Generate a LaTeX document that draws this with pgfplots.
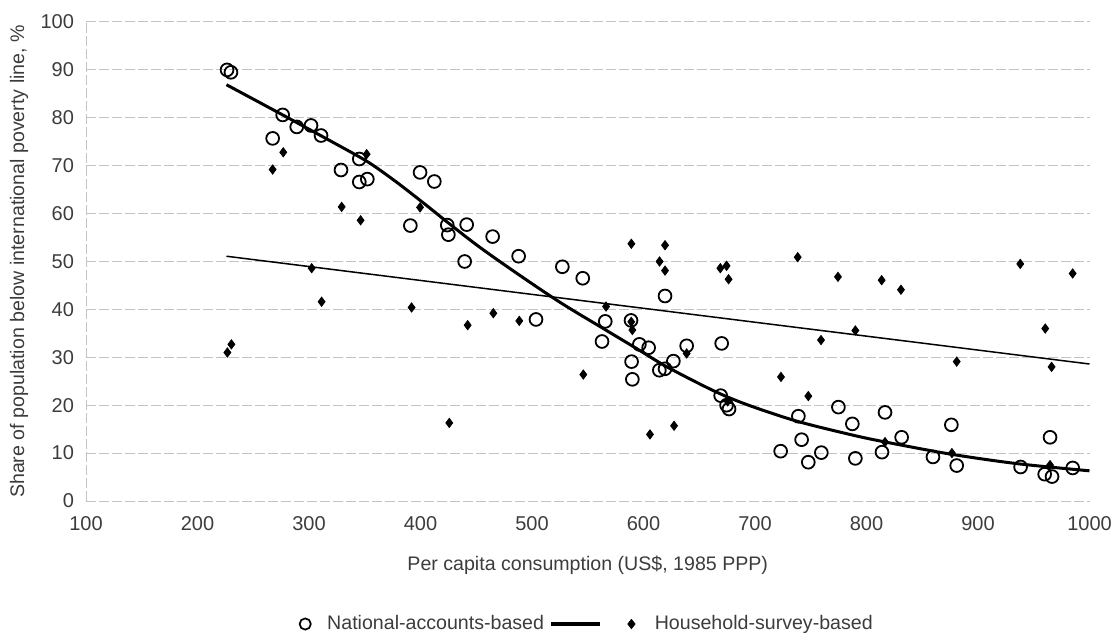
\documentclass[border=0pt]{standalone}
\usepackage{pgfplots}
\pgfplotsset{compat=1.18}
\usepackage{fontspec}
\setmainfont{Liberation Sans}
\definecolor{txt}{RGB}{60,60,60}
\definecolor{grd}{RGB}{195,195,195}
\begin{document}
\begin{tikzpicture}
\useasboundingbox (-43pt,-67.5pt) rectangle (512.5pt,250.5pt);
\begin{axis}[
  at={(0,0)}, anchor=south west,
  scale only axis, width=501.75pt, height=239.5pt,
  xmin=100, xmax=1000, ymin=0, ymax=100,
  xtick={100,200,...,1000}, ytick={0,10,...,100},
  major tick length=0pt,
  axis line style={draw=none},
  ymajorgrids, grid style={grd, dash pattern=on 5pt off 1.5pt, line width=0.5pt},
  /pgf/number format/assume math mode=true,
  /pgf/number format/1000 sep={},
  ticklabel style={font=\fontsize{10}{11}\selectfont, text=txt},
  xticklabel style={yshift=-4pt},
  yticklabel style={xshift=-2.5pt},
  xlabel={Per capita consumption (US\$, 1985 PPP)},
  ylabel={Share of population below international poverty line, \%},
  label style={font=\fontsize{9.8}{11}\selectfont, text=txt},
  xlabel style={at={(axis description cs:0.5,0)}, anchor=center, yshift=-32pt},
  ylabel style={at={(axis description cs:0,0.5)}, anchor=center, yshift=33.5pt},
  legend style={at={(axis description cs:0.5,-0.2568)}, anchor=center, draw=none, fill=none,
    font=\fontsize{9.8}{11}\selectfont, text=txt, legend columns=-1,
    /tikz/every even column/.append style={column sep=0.7pt}},
  legend cell align=left,
  clip=false,
]
\draw[grd, dash pattern=on 5pt off 1.5pt, line width=0.5pt] (axis cs:100,0) -- (axis cs:100,100);
% National-accounts-based points
\addplot[only marks, mark=o, mark size=3.2pt, mark options={line width=0.9pt, black},
  legend image code/.code={\path[draw=none,fill=none] (-3pt,0) -- (9pt,0); \draw[black, line width=0.85pt, fill=none] (0,0) circle (2.8pt);}] coordinates {
(226.5,90.0) (230,89.5) (267.4,75.7) (276.4,80.6) (289,78.1) (301.8,78.4) (310.8,76.3)
(328.7,69.1) (345.1,71.4) (345.1,66.6) (352.3,67.2) (399.6,68.6) (412.4,66.7) (390.9,57.5)
(424,57.6) (425,55.6) (441.4,57.7) (439.6,50.0) (464.7,55.2) (488,51.1) (527.2,48.9)
(545.5,46.5) (619.3,42.8) (503.6,37.9) (565.7,37.5) (562.8,33.3) (588.8,37.7) (596.3,32.7)
(604.6,32.0) (589.3,29.1) (590,25.4) (614.2,27.3) (619.3,27.6) (626.8,29.2) (638.7,32.4)
(670.1,32.9) (669.2,22.0) (674.5,20.0) (676.7,19.2) (723,10.4) (738.9,17.7) (741.8,12.8)
(747.8,8.1) (759.5,10.1) (774.8,19.6) (787.3,16.1) (790,8.9) (813.9,10.2) (816.6,18.5)
(831.5,13.3) (859.6,9.2) (876.1,15.9) (880.9,7.4) (938.2,7.1) (964.6,13.3) (959.8,5.6)
(966.4,5.1) (984.9,6.9)
};
\addlegendentry{National-accounts-based}
% logistic-type fit (thick)
\addplot[black, line width=1.5pt, smooth, no marks,
  legend image code/.code={\draw[black, line width=1.6pt] (0,0) -- (24.5pt,0);}] coordinates {
(226,86.9) (274,80.9) (319,75.2) (352,70.9) (376,67.0) (400,62.7) (453,53.0) (519,42.4)
(564,36.0) (594,31.8) (621,28.0) (663,23.0) (693,20.1) (737,16.7) (785,13.9) (815,12.4)
(875,9.8) (935,7.8) (1000,6.3)
};
\addlegendentry{}
% Household-survey-based points
\addplot[only marks, mark=diamond*, mark size=2.3pt, mark options={black},
  legend image code/.code={\path[draw=none,fill=none] (-10.2pt,0) -- (9.7pt,0); \fill[black] (0,2.3pt) -- (1.8pt,0) -- (0,-2.3pt) -- (-1.8pt,0) -- cycle;}] coordinates {
(267.4,69.2) (276.9,72.8) (329.3,61.4) (346.3,58.6) (351.7,72.4) (302.4,48.6) (311.3,41.6)
(226.8,31.0) (230.4,32.7) (399.6,61.3) (589.1,53.7) (619.3,53.4) (614.4,50.0) (619.3,48.1)
(668.9,48.6) (674.5,49.1) (676.3,46.3) (738.3,50.9) (774.4,46.8) (813.6,46.1) (830.9,44.1)
(937.9,49.5) (984.9,47.5) (392,40.4) (442.3,36.7) (465.3,39.2) (488.6,37.6) (566.4,40.6)
(590,35.7) (589,37.4) (546,26.4) (425.8,16.3) (605.8,13.9) (627.4,15.7) (638.7,30.8)
(723.3,25.9) (747.8,21.9) (759.2,33.6) (790,35.6) (880.9,29.1) (960.3,36.0) (966,28.0)
(816.6,12.3) (876.6,10.0) (964.6,7.5) (675.5,20.8)
};
\addlegendentry{Household-survey-based}
% linear fit (thin)
\addplot[black, line width=0.75pt, no marks, forget plot] coordinates {(226,51.1) (1000,28.6)};
\end{axis}
\end{tikzpicture}
\end{document}
